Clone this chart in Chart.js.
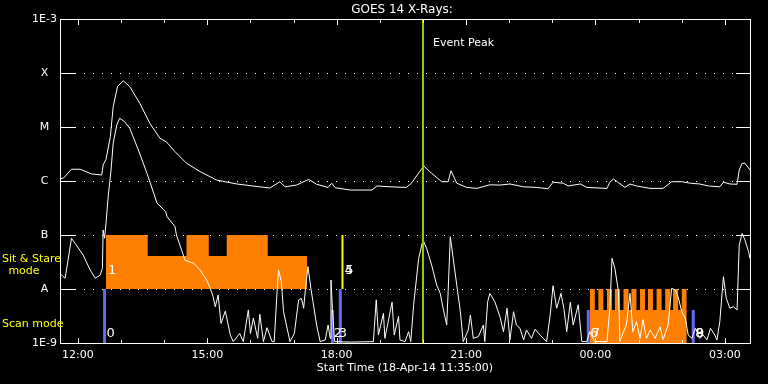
<!DOCTYPE html>
<html lang="en">
<head>
<meta charset="UTF-8" />
<title>GOES 14 X-Rays</title>
<script src="https://cdn.jsdelivr.net/npm/chart.js"></script>
<style>
  html, body { margin: 0; padding: 0; background: #000; }
  #wrap { width: 768px; height: 384px; }
</style>
</head>
<body>
<div id="wrap"><canvas id="goes" width="768" height="384"></canvas></div>
<script>
// x values are minutes since the start time, 18-Apr-14 11:35:00
const startLabel = "Start Time (18-Apr-14 11:35:00)";
const tickTimes = [25, 205, 385, 565, 745, 925];
const tickLabels = ["12:00", "15:00", "18:00", "21:00", "00:00", "03:00"];
const hourTimes = [25, 85, 145, 205, 265, 325, 385, 445, 505, 565, 625, 685, 745, 805, 865, 925];

const fluxLevels = [1e-9, 1e-8, 1e-7, 1e-6, 1e-5, 1e-4, 1e-3];
const fluxLabels = ["1E-9", "A", "B", "C", "M", "X", "1E-3"];

// long channel (upper curve)
const longTime = [0, 5, 16, 28, 44, 58, 60, 64, 70, 74, 80, 88, 97, 111, 125, 139, 148, 160, 176, 195,
  218, 246, 278, 292, 306, 313, 329, 346, 357, 373, 378, 383, 404, 434, 441, 459, 482, 489, 506, 517,
  531, 540, 544, 552, 566, 580, 598, 612, 626, 645, 663, 679, 686, 700, 707, 724, 733, 761, 765, 770,
  777, 786, 793, 802, 821, 839, 851, 865, 877, 890, 902, 918, 923, 932, 942, 945, 949, 953, 960];
const longFlux = [1.09e-6, 1.14e-6, 1.65e-6, 1.65e-6, 1.35e-6, 1.29e-6, 1.98e-6, 2.52e-6, 6.6e-6, 2.38e-5,
  5.6e-5, 7.2e-5, 5.6e-5, 2.75e-5, 1.17e-5, 6.2e-6, 5.3e-6, 3.5e-6, 2.13e-6, 1.49e-6,
  1.04e-6, 8.8e-7, 7.8e-7, 7.4e-7, 9.7e-7, 7.8e-7, 8.4e-7, 1.07e-6, 8.7e-7, 7.6e-7, 9.1e-7, 7.5e-7, 6.8e-7, 6.8e-7,
  8.1e-7, 7.8e-7, 7.6e-7, 9.1e-7, 1.9e-6, 1.39e-6, 9.7e-7, 9.7e-7, 1.55e-6, 9.1e-7, 7.6e-7, 7.3e-7, 8.5e-7,
  8.4e-7, 8.8e-7, 7.8e-7, 7.6e-7, 7.2e-7, 9.5e-7, 9.1e-7, 8.1e-7, 8.8e-7, 7.6e-7, 7.3e-7, 9.5e-7, 1.09e-6,
  9.3e-7, 7.6e-7, 8.8e-7, 8.1e-7, 7.3e-7, 7.3e-7, 9.7e-7, 9.7e-7, 9.1e-7, 8.8e-7, 8.1e-7, 7.8e-7, 9.5e-7,
  8.8e-7, 8.7e-7, 1.6e-6, 2.13e-6, 2.13e-6, 1.6e-6];

// short channel (lower curve)
const shortTime = [0, 7, 9, 16, 21, 32, 42, 49, 56, 59, 60, 62, 64, 67, 71, 74, 79, 83, 90, 97,
  109, 121, 135, 147, 149, 160, 162, 174, 186, 195, 204, 209, 213, 216, 220, 224, 230, 237, 241, 250,
  255, 262, 265, 269, 275, 278, 283, 288, 295, 298, 302, 304, 308, 311, 315, 320, 326, 332, 336, 339,
  342, 345, 349, 352, 357, 362, 369, 373, 376, 377, 379, 382, 404, 436, 440, 443, 450, 452, 462, 465,
  471, 473, 480, 485, 488, 492, 499, 505, 510, 517, 524, 529, 533, 538, 540, 543, 547, 552, 557, 561,
  568, 571, 575, 582, 589, 591, 595, 598, 605, 612, 617, 622, 626, 631, 635, 640, 645, 649, 656, 661,
  668, 677, 682, 686, 691, 697, 701, 705, 710, 714, 721, 726, 733, 737, 744, 761, 765, 768, 772, 777,
  779, 784, 788, 793, 797, 802, 807, 811, 816, 821, 828, 835, 839, 846, 851, 856, 860, 865, 870, 874,
  879, 884, 890, 895, 900, 905, 911, 914, 918, 923, 927, 932, 937, 942, 945, 949, 953, 958, 960];
const shortFlux = [1.95e-8, 1.58e-8, 2.25e-8, 8.7e-8, 7.0e-8, 4.3e-8, 2.25e-8, 1.58e-8, 1.82e-8, 2.42e-8,
  1.24e-7, 8.7e-8, 1.65e-7, 5.1e-7, 1.6e-6, 5.0e-6, 1.09e-5, 1.45e-5, 1.25e-5, 9.5e-6,
  3.75e-6, 1.39e-6, 3.9e-7, 2.7e-7, 2.18e-7, 1.43e-7, 1.0e-7, 3.4e-8, 3.0e-8, 2.25e-8,
  1.47e-8, 1.03e-8, 7.2e-9, 4.7e-9, 7.7e-9, 2.3e-9, 3.9e-9, 1.4e-9, 1.06e-9, 1.5e-9,
  1.06e-9, 4.1e-9, 1.5e-9, 2.9e-9, 1.22e-9, 3.4e-9, 1.06e-9, 1.92e-9, 1.06e-9, 1.06e-9,
  8.9e-9, 2.25e-8, 1.37e-8, 3.8e-9, 2.15e-9, 1.06e-9, 1.5e-9, 6.3e-9, 6.7e-9, 4.4e-9,
  1.19e-8, 2.6e-8, 1.03e-8, 5.8e-9, 2.15e-9, 1.06e-9, 1.14e-9, 2.15e-9, 1.22e-9, 1.47e-8,
  4.4e-9, 1.06e-9, 1.04e-9, 1.06e-9, 6.3e-9, 1.4e-9, 3.55e-9, 1.22e-9, 5.7e-9, 1.4e-9,
  3.1e-9, 1.14e-9, 1.06e-9, 1.62e-9, 1.06e-9, 5.1e-9, 3.7e-8, 8.1e-8, 5.7e-8, 2.8e-8,
  1.19e-8, 8.3e-9, 4.4e-9, 2.15e-9, 8.9e-9, 9.3e-8, 3.7e-8, 1.19e-8, 3.8e-9, 1.06e-9,
  1.74e-9, 3.3e-9, 1.22e-9, 1.31e-9, 2.15e-9, 1.06e-9, 5.8e-9, 8.3e-9, 5.8e-9, 3.1e-9,
  1.62e-9, 4.4e-9, 1.14e-9, 3.8e-9, 2.15e-9, 1.87e-9, 1.14e-9, 1.74e-9, 1.22e-9, 1.8e-9,
  1.4e-9, 1.06e-9, 3.3e-9, 1.15e-8, 4.4e-9, 8.3e-9, 4.4e-9, 1.62e-9, 5.7e-9, 2.15e-9,
  5.1e-9, 1.06e-9, 1.06e-9, 1.62e-9, 1.06e-9, 1.06e-9, 4.4e-9, 3.7e-8, 2.42e-8, 8.9e-9,
  1.06e-9, 1.62e-9, 2.15e-9, 8.3e-9, 1.62e-9, 2.5e-9, 1.22e-9, 2.7e-9, 1.22e-9, 1.74e-9,
  1.22e-9, 2.0e-9, 1.14e-9, 2.15e-9, 1.03e-8, 9.6e-9, 7.2e-9, 3.8e-9, 2.9e-9, 1.4e-9,
  1.22e-9, 1.87e-9, 1.22e-9, 1.4e-9, 1.14e-9, 1.87e-9, 1.4e-9, 1.14e-9, 2.5e-9, 1.69e-8,
  6.7e-9, 4.4e-9, 4.7e-9, 4.1e-9, 6.5e-8, 1.07e-7, 8.1e-8, 4.9e-8, 3.7e-8];

// sit & stare blocks (stepped: each level holds until the next time)
const stareTime1 = [64, 122, 176, 207, 232, 289, 344];
const stareFlux1 = [1e-7, 4.1e-8, 1e-7, 4.1e-8, 1e-7, 4.1e-8, 4.1e-8];
const stareTime2 = [737, 744, 749, 756, 761, 768, 772, 779, 784, 791, 795, 802,
  807, 814, 818, 825, 830, 837, 842, 849, 853, 860, 865, 872];
const stareFlux2 = [1e-8, 4.1e-9, 1e-8, 4.1e-9, 1e-8, 4.1e-9, 1e-8, 4.1e-9, 1e-8, 4.1e-9, 1e-8, 4.1e-9,
  1e-8, 4.1e-9, 1e-8, 4.1e-9, 1e-8, 4.1e-9, 1e-8, 4.1e-9, 1e-8, 4.1e-9, 1e-8, 4.1e-9];

// scan mode markers and the single stare marker
const scanTime = [62, 379, 390, 735, 881];
const scanTop = [1e-8, 4.1e-9, 1e-8, 4.1e-9, 4.1e-9];
const stareBarTime = [393];
const stareBarTop = [1e-7];

const eventPeakTime = 505;

const modeText = ["0", "1", "2", "3", "4", "5", "6", "7", "8", "9"];
const modeTime = [62, 64, 378, 385, 393, 394, 735, 737, 881, 882];
const modeFlux = [1.5e-9, 2.15e-8, 1.5e-9, 1.5e-9, 2.15e-8, 2.15e-8, 1.5e-9, 1.5e-9, 1.5e-9, 1.5e-9];

const pts = (xs, ys) => xs.map((x, i) => ({ x: x, y: ys[i] }));
function bars(times, lows, tops) {
  const out = [];
  times.forEach((t, i) => {
    out.push({ x: t, y: lows[i] }, { x: t, y: tops[i] }, { x: t, y: null });
  });
  return out;
}

Chart.defaults.font.family = "'DejaVu Sans', sans-serif";
Chart.defaults.font.size = 11;
Chart.defaults.color = "#fff";

const frame = {
  id: "frame",
  beforeDatasetsDraw(chart) {
    const { ctx, chartArea: a, scales: { y } } = chart;
    ctx.save();
    ctx.strokeStyle = "#fff";
    ctx.lineWidth = 1;
    ctx.setLineDash([1, 8]);
    fluxLevels.slice(1, -1).forEach((v) => {
      const py = Math.round(y.getPixelForValue(v)) + 0.5;
      ctx.beginPath();
      ctx.moveTo(a.left + 15, py);
      ctx.lineTo(a.right - 14, py);
      ctx.stroke();
    });
    ctx.restore();
  },
  afterDatasetsDraw(chart) {
    const { ctx, chartArea: a, scales: { x, y } } = chart;
    ctx.save();
    ctx.strokeStyle = "#fff";
    ctx.lineWidth = 1;
    ctx.strokeRect(a.left + 0.5, a.top + 0.5, a.right - a.left, a.bottom - a.top);
    ctx.beginPath();
    fluxLevels.slice(1, -1).forEach((v) => {
      const py = Math.round(y.getPixelForValue(v)) + 0.5;
      ctx.moveTo(a.left, py); ctx.lineTo(a.left + 15, py);
      ctx.moveTo(a.right - 14, py); ctx.lineTo(a.right, py);
    });
    hourTimes.forEach((t) => {
      const px = Math.round(x.getPixelForValue(t)) + 0.5;
      const len = tickTimes.includes(t) ? 6 : 4;
      ctx.moveTo(px, a.top); ctx.lineTo(px, a.top + len);
      ctx.moveTo(px, a.bottom + 1); ctx.lineTo(px, a.bottom + 1 - len);
    });
    ctx.stroke();

    // texts
    ctx.fillStyle = "#fff";
    ctx.textBaseline = "middle";
    ctx.textAlign = "center";
    ctx.font = "12px 'DejaVu Sans'";
    ctx.fillText("GOES 14 X-Rays:", 402, 10);
    ctx.font = "11px 'DejaVu Sans'";
    ctx.fillText(startLabel, (a.left + a.right) / 2, 368);
    ctx.textAlign = "left";
    ctx.fillText("Event Peak", x.getPixelForValue(eventPeakTime) + 10, 43);

    ctx.font = "13px 'DejaVu Sans'";
    modeText.forEach((s, i) => {
      ctx.fillText(s, x.getPixelForValue(modeTime[i]) + 2, y.getPixelForValue(modeFlux[i]));
    });

    ctx.fillStyle = "#ffff00";
    ctx.font = "11px 'DejaVu Sans'";
    ctx.fillText("Sit & Stare", 2, 259);
    ctx.fillText("Scan mode", 2, 324);
    ctx.textAlign = "center";
    ctx.fillText("mode", 24, 271);
    ctx.restore();
  },
};

new Chart(document.getElementById("goes"), {
  type: "line",
  data: {
    datasets: [
      {
        label: "Event Peak",
        data: bars([eventPeakTime], [fluxLevels[0]], [fluxLevels[6]]),
        borderColor: "#9acd00",
        borderWidth: 2,
        order: 0,
      },
      {
        label: "1.0-8.0 A",
        data: pts(longTime, longFlux),
        borderColor: "#fff",
        borderWidth: 1,
        order: 1,
      },
      {
        label: "0.5-4.0 A",
        data: pts(shortTime, shortFlux),
        borderColor: "#fff",
        borderWidth: 1,
        order: 1,
      },
      {
        label: "Scan mode",
        data: bars(scanTime, scanTime.map(() => fluxLevels[0]), scanTop),
        borderColor: "#6666ff",
        borderWidth: 3,
        order: 2,
      },
      {
        label: "Stare marker",
        data: bars(stareBarTime, [fluxLevels[1]], stareBarTop),
        borderColor: "#ffff00",
        borderWidth: 2,
        order: 2,
      },
      {
        label: "Sit & Stare 1",
        data: pts(stareTime1, stareFlux1),
        stepped: true,
        fill: { value: fluxLevels[1] },
        backgroundColor: "#ff8000",
        borderColor: "rgba(0,0,0,0)",
        borderWidth: 0,
        order: 3,
      },
      {
        label: "Sit & Stare 2",
        data: pts(stareTime2, stareFlux2),
        stepped: true,
        fill: "start",
        backgroundColor: "#ff8000",
        borderColor: "rgba(0,0,0,0)",
        borderWidth: 0,
        order: 3,
      },
    ],
  },
  options: {
    responsive: false,
    animation: false,
    devicePixelRatio: 1,
    events: [],
    layout: { padding: { left: 0, right: 18, top: 19, bottom: 0 } },
    elements: { point: { radius: 0 }, line: { tension: 0 } },
    plugins: { legend: { display: false }, tooltip: { enabled: false } },
    scales: {
      x: {
        type: "linear",
        min: 0,
        max: 960,
        grid: { display: false, drawTicks: false },
        border: { display: false },
        afterBuildTicks: (s) => { s.ticks = tickTimes.map((v) => ({ value: v })); },
        afterFit: (s) => { s.height = 41; },
        ticks: {
          autoSkip: false,
          maxRotation: 0,
          padding: 6,
          color: "#fff",
          callback: (v, i) => tickLabels[i],
        },
      },
      y: {
        type: "logarithmic",
        min: 1e-9,
        max: 1e-3,
        grid: { display: false, drawTicks: false },
        border: { display: false },
        afterBuildTicks: (s) => { s.ticks = fluxLevels.map((v) => ({ value: v })); },
        afterFit: (s) => { s.width = 60; },
        ticks: {
          autoSkip: false,
          crossAlign: "center",
          padding: 3,
          color: "#fff",
          callback: (v) => fluxLabels[Math.round(Math.log10(v)) + 9],
        },
      },
    },
  },
  plugins: [frame],
});
</script>
</body>
</html>
